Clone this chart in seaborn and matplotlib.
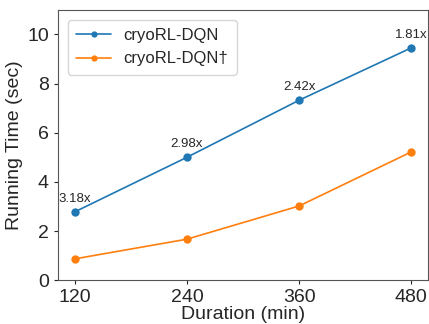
import matplotlib
matplotlib.use("Agg")
import matplotlib.pyplot as plt
import seaborn as sns
import pandas as pd

# Données
durations = [120, 240, 360, 480]
time_dqn = [2.78, 5.00, 7.32, 9.45]
time_dqn_dagger = [0.87, 1.67, 3.02, 5.22]
speedups = ["3.18x", "2.98x", "2.42x", "1.81x"]
series_names = ["cryoRL-DQN", "cryoRL-DQN\u2020"]

sns.set_style("ticks")
plt.rcParams['font.family'] = ['Liberation Sans', 'DejaVu Sans']

df = pd.DataFrame({
    "Duration": durations * 2,
    "Time": time_dqn + time_dqn_dagger,
    "Method": [series_names[0]] * 4 + [series_names[1]] * 4,
})

fig, ax = plt.subplots(figsize=(4.29, 3.24), dpi=100)
sns.lineplot(data=df, x="Duration", y="Time", hue="Method", marker="o",
             markersize=6, markeredgewidth=0, linewidth=1.2,
             palette=["#1f77b4", "#ff7f0e"], ax=ax)

# Facteurs d'accélération au-dessus de la courbe bleue
for x, y, s in zip(durations, time_dqn, speedups):
    ax.annotate(s, (x, y), textcoords="offset points", xytext=(0, 5),
                ha="center", va="bottom", fontsize=9.5)

ax.set_xlim(102, 498)
ax.set_ylim(0, 11)
ax.set_xticks(durations)
ax.set_yticks([0, 2, 4, 6, 8, 10])
ax.tick_params(labelsize=14, length=3)
ax.set_xlabel("Duration (min)", fontsize=14, labelpad=0)
ax.set_ylabel("Running Time (sec)", fontsize=14, labelpad=3)
for sp in ax.spines.values():
    sp.set_color("#555555")
    sp.set_visible(True)

leg = ax.legend(loc="upper left", fontsize=12, title=None, handlelength=2.1,
                borderpad=0.5, labelspacing=0.5, handletextpad=0.75,
                borderaxespad=0.6, markerscale=0.75)

fig.subplots_adjust(left=0.135, right=0.998, top=0.97, bottom=0.135)
fig.savefig("out.png", dpi=100)
